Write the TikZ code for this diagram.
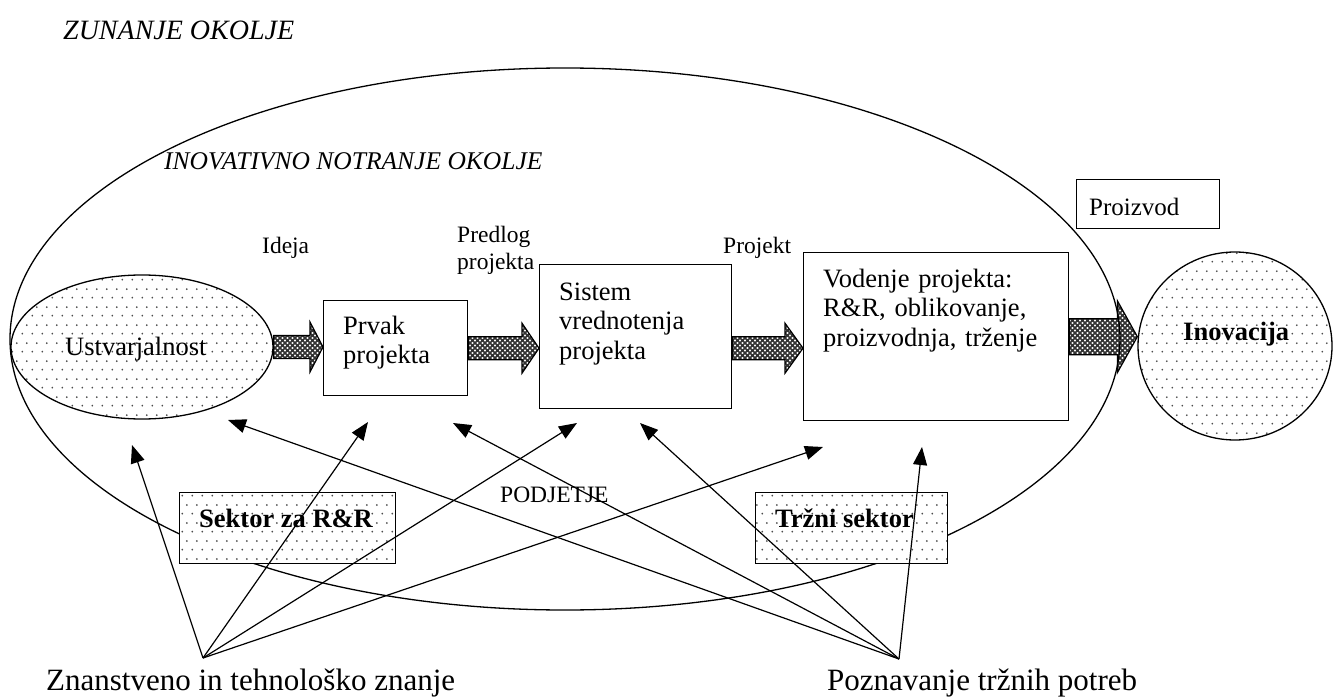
\documentclass[tikz,border=0pt]{standalone}
\usepackage{fontspec}
\setmainfont{Liberation Serif}
\usetikzlibrary{patterns,calc,shapes.geometric,arrows.meta}

\pgfdeclarepatternformonly{sparsedots}{\pgfpoint{0pt}{0pt}}{\pgfpoint{10pt}{18pt}}{\pgfpoint{10pt}{18pt}}{%
  \pgfpathcircle{\pgfpoint{2.5pt}{4.5pt}}{1.05pt}%
  \pgfpathcircle{\pgfpoint{7.5pt}{13.5pt}}{1.05pt}%
  \pgfusepath{fill}}
\pgfdeclarepatternformonly{xhatch}{\pgfpoint{-1pt}{-1pt}}{\pgfpoint{6pt}{6pt}}{\pgfpoint{5pt}{5pt}}{%
  \pgfsetlinewidth{1.5pt}%
  \pgfpathmoveto{\pgfpoint{-0.5pt}{-0.5pt}}\pgfpathlineto{\pgfpoint{5.5pt}{5.5pt}}%
  \pgfpathmoveto{\pgfpoint{-0.5pt}{5.5pt}}\pgfpathlineto{\pgfpoint{5.5pt}{-0.5pt}}%
  \pgfusepath{stroke}}

\newcommand\blockarrow[5]{%
  \path[harrow] let \p1=(#1), \p2=(#2) in
    (\x1,\y1+#3) -- (\x2-#5,\y1+#3) -- (\x2-#5,\y1+#4) -- (\x2,\y1)
    -- (\x2-#5,\y1-#4) -- (\x2-#5,\y1-#3) -- (\x1,\y1-#3) -- cycle;}

\tikzset{
  pbox/.style={draw, line width=1.4pt, fill=white, inner sep=0pt, anchor=north west},
  dotfill/.style={preaction={fill=white}, pattern=sparsedots, pattern color=black!70},
  dbox/.style={draw, line width=1.4pt, dotfill, inner sep=0pt, anchor=north west},
  dell/.style={ellipse, draw, line width=1.3pt, dotfill, inner sep=0pt},
  harrow/.style={draw, line width=1.2pt, preaction={fill=white}, pattern=xhatch, pattern color=black!80},
  link/.style={-{Triangle[length=18pt,width=14pt]}, line width=1.2pt},
  lbl/.style={inner sep=0pt, anchor=base west, font=\fontsize{23.5}{27}\selectfont},
  mlbl/.style={lbl, text width=120pt, align=left},
  btxt/.style={inner sep=0pt, anchor=base west, font=\fontsize{26.5}{29.5}\selectfont, text width=300pt, align=left},
  bold/.style={inner sep=0pt, anchor=base west, font=\fontsize{26.5}{30}\selectfont\bfseries},
  big/.style={inner sep=0pt, anchor=base west, font=\fontsize{31}{36}\selectfont},
  ital/.style={inner sep=0pt, anchor=base west, font=\fontsize{28}{32}\selectfont\itshape}
}

\begin{document}
\begin{tikzpicture}[x=1pt,y=-1pt]
\useasboundingbox (0,0) rectangle (1339,698);
\fill[white] (0,0) rectangle (1339,698);

% titles
\node[ital] (zun) at (63,40) {ZUNANJE OKOLJE};
\node[ital, font=\fontsize{25.5}{29}\selectfont\itshape] (inov) at (164,170) {INOVATIVNO NOTRANJE OKOLJE};

% flow nodes
\node[dell, minimum width=262pt, minimum height=144pt] (ust) at (142,347) {};
\node[btxt] (ustt) at (65,355) {Ustvarjalnost};
\node[pbox, minimum width=144pt, minimum height=95pt] (prvak) at (323,300) {};
\node[btxt] (prvakt) at (343,334) {Prvak\\projekta};
\node[pbox, minimum width=192pt, minimum height=144pt] (sistem) at (539,264) {};
\node[btxt] (sistemt) at (559,300) {Sistem\\vrednotenja\\projekta};
\node[pbox, minimum width=265pt, minimum height=168pt] (vod) at (803,252) {};
\node[btxt] (vodt) at (823,287) {Vodenje projekta:\\R\&R, oblikovanje,\\proizvodnja, trženje};
\node[dell, minimum width=194pt, minimum height=188pt] (ino) at (1235,346) {};
\node[bold] (inot) at (1183,340) {Inovacija};
\node[pbox, minimum width=143pt, minimum height=49pt] (proizvod) at (1076,179) {};
\node[lbl, font=\fontsize{25}{29}\selectfont] (proizvodt) at (1089,215) {Proizvod};

% flow labels
\node[lbl] (ideja) at (262,253) {Ideja};
\node[mlbl] (predlog) at (457,242) {Predlog\\projekta};
\node[lbl] (projekt) at (723,253) {Projekt};

% block arrows
\blockarrow{ust.east}{prvak.west}{11.5pt}{25pt}{13pt}
\blockarrow{prvak.east}{sistem.west}{11.5pt}{25pt}{17pt}
\blockarrow{sistem.east|-prvak.east}{vod.west}{11.5pt}{25pt}{18pt}
\blockarrow{vod.east}{ino.west}{18pt}{36pt}{20pt}

% company ellipse
\draw[line width=1.3pt] (565,339) ellipse [x radius=555, y radius=271];
\node[lbl] (podjetje) at (500,502) {PODJETJE};

% sector boxes
\node[dbox, minimum width=216pt, minimum height=71pt] (rr) at (179,492) {};
\node[bold] (rrt) at (199,527) {Sektor za R\&R};
\node[dbox, minimum width=192pt, minimum height=71pt] (trg) at (755,492) {};
\node[bold] (trgt) at (775,527) {Tržni sektor};

% knowledge sources
\node[big] (znanje) at (46,690) {Znanstveno in tehnološko znanje};
\node[big] (potrebe) at (827,690) {Poznavanje tržnih potreb};
\coordinate (A) at (203,658);
\coordinate (B) at (899,659);

% arrow tips
\coordinate (a1) at (132,445);
\coordinate (a2) at (368,422);
\coordinate (a3) at (577,423);
\coordinate (a4) at (823,447);
\coordinate (b1) at (228,420);
\coordinate (b2) at (453,423);
\coordinate (b3) at (640,423);
\coordinate (b4) at (922,447);

\foreach \t in {a1,a2,a3,a4} \draw[link] (A) -- (\t);
\foreach \t in {b1,b2,b3,b4} \draw[link] (B) -- (\t);
\end{tikzpicture}
\end{document}
